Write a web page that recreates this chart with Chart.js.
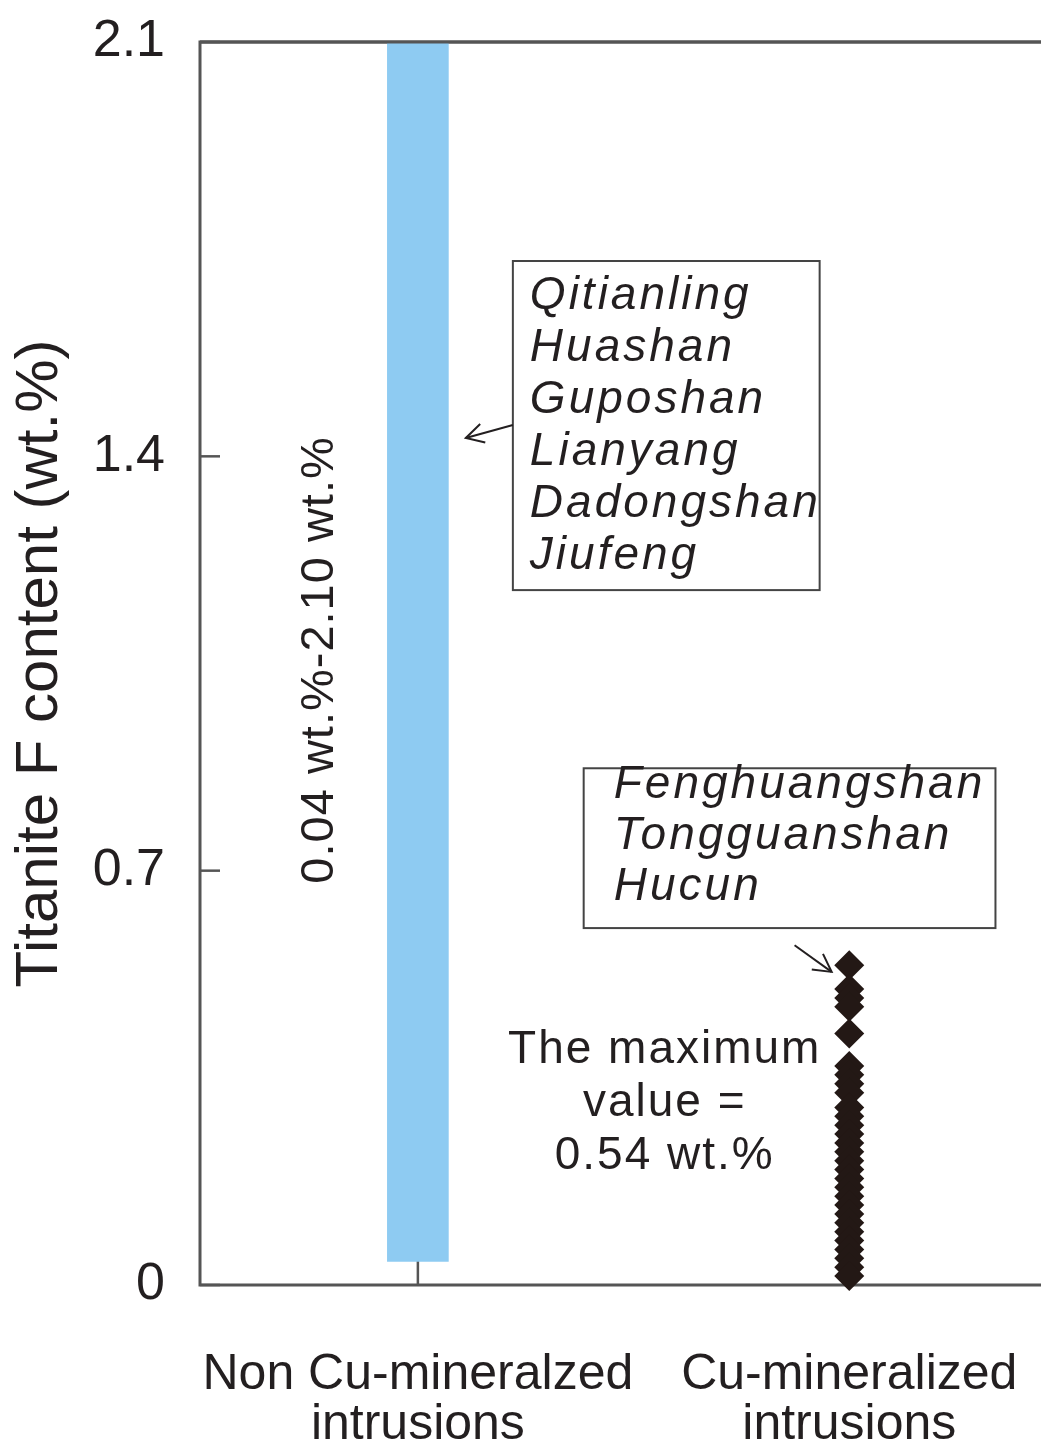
<!DOCTYPE html>
<html>
<head>
<meta charset="utf-8">
<script src="https://cdn.jsdelivr.net/npm/chart.js@4/dist/chart.umd.min.js"></script>
<style>
html, body { margin: 0; padding: 0; background: #fff; }
</style>
</head>
<body>
<canvas id="chart" width="1041" height="1446"></canvas>
<script>
// data
const categories = [["Non Cu-mineralzed", "intrusions"], ["Cu-mineralized", "intrusions"]]
const categoryX = [1, 2.98]
const yTicks = [0, 0.7, 1.4, 2.1]
const nonCuRange = [0.04, 2.1]
const cuValues = [0.54, 0.50, 0.485, 0.47, 0.425, 0.37, 0.355, 0.34, 0.325,
    0.30, 0.285, 0.27, 0.255, 0.24, 0.225, 0.21, 0.195, 0.18, 0.165, 0.15,
    0.135, 0.12, 0.105, 0.09, 0.075, 0.06, 0.045, 0.03, 0.015]
const nonCuSites = ["Qitianling", "Huashan", "Guposhan", "Lianyang", "Dadongshan", "Jiufeng"]
const cuSites = ["Fenghuangshan", "Tongguanshan", "Hucun"]
const rangeLabel = "0.04 wt.%-2.10 wt.%"
const maxLabel = ["The maximum", "value =", "0.54 wt.%"]

const ink = "#231f20"
const axisGray = "#555"
const fontFamily = "'Liberation Sans', Arial, sans-serif"

Chart.defaults.font.family = fontFamily
Chart.defaults.color = ink

function line(ctx, x0, y0, x1, y1) {
    ctx.beginPath()
    ctx.moveTo(x0, y0)
    ctx.lineTo(x1, y1)
    ctx.stroke()
}

function arrow(ctx, x0, y0, x1, y1) {
    line(ctx, x0, y0, x1, y1)
    const ang = Math.atan2(y1 - y0, x1 - x0)
    const len = 20
    ctx.beginPath()
    ctx.moveTo(x1 - len * Math.cos(ang - 0.5), y1 - len * Math.sin(ang - 0.5))
    ctx.lineTo(x1, y1)
    ctx.lineTo(x1 - len * Math.cos(ang + 0.5), y1 - len * Math.sin(ang + 0.5))
    ctx.stroke()
}

// annotation layout, in data units
const notes = {
    box1: { x0: 1.436, x1: 2.844, y0: 1.73, y1: 1.174 },
    text1: { x: 1.514, y: 1.671, step: 52 },
    arrow1: { x0: 1.436, y0: 1.453, x1: 1.22, y1: 1.431 },
    box2: { x0: 1.761, x1: 3.651, y0: 0.873, y1: 0.603 },
    text2: { x: 1.899, y: 0.845, step: 51 },
    arrow2: { x0: 2.729, y0: 0.574, x1: 2.899, y1: 0.529 },
    maxText: { x: 2.133, y: 0.397, step: 53 },
    range: { x: 0.55, y: 1.056 }
}

const frame = {
    id: "frame",
    beforeDatasetsDraw(chart) {
        const { ctx, chartArea: a, scales: { x, y } } = chart
        ctx.save()
        ctx.strokeStyle = axisGray
        ctx.lineWidth = 3
        ctx.beginPath()
        ctx.moveTo(a.right, a.top)
        ctx.lineTo(a.left, a.top)
        ctx.lineTo(a.left, a.bottom)
        ctx.lineTo(a.right, a.bottom)
        ctx.stroke()
        ctx.lineWidth = 2.5
        yTicks.forEach(v => {
            const py = y.getPixelForValue(v)
            line(ctx, a.left, py, a.left + 20, py)
        })
        categoryX.forEach(v => {
            const px = x.getPixelForValue(v)
            line(ctx, px, a.bottom, px, a.bottom - 30)
        })
        ctx.restore()
    },
    afterDatasetsDraw(chart) {
        const { ctx, chartArea: a, scales: { x, y } } = chart
        const X = v => x.getPixelForValue(v)
        const Y = v => y.getPixelForValue(v)
        ctx.save()
        ctx.strokeStyle = axisGray
        ctx.lineWidth = 3
        line(ctx, a.left, a.top, a.right, a.top)

        ctx.strokeStyle = "#444"
        ctx.lineWidth = 2
        const b1 = notes.box1, b2 = notes.box2
        ctx.strokeRect(X(b1.x0), Y(b1.y0), X(b1.x1) - X(b1.x0), Y(b1.y1) - Y(b1.y0))
        ctx.strokeRect(X(b2.x0), Y(b2.y0), X(b2.x1) - X(b2.x0), Y(b2.y1) - Y(b2.y0))

        ctx.strokeStyle = ink
        ctx.lineWidth = 2
        const a1 = notes.arrow1, a2 = notes.arrow2
        arrow(ctx, X(a1.x0), Y(a1.y0), X(a1.x1), Y(a1.y1))
        arrow(ctx, X(a2.x0), Y(a2.y0), X(a2.x1), Y(a2.y1))

        ctx.fillStyle = ink
        ctx.textBaseline = "middle"
        ctx.font = "italic 46px " + fontFamily
        ctx.letterSpacing = "3px"
        ctx.textAlign = "left"
        nonCuSites.forEach((s, i) => ctx.fillText(s, X(notes.text1.x), Y(notes.text1.y) + i * notes.text1.step))
        cuSites.forEach((s, i) => ctx.fillText(s, X(notes.text2.x), Y(notes.text2.y) + i * notes.text2.step))

        ctx.font = "46px " + fontFamily
        ctx.letterSpacing = "2px"
        ctx.textAlign = "center"
        maxLabel.forEach((s, i) => ctx.fillText(s, X(notes.maxText.x), Y(notes.maxText.y) + i * notes.maxText.step))

        ctx.translate(X(notes.range.x), Y(notes.range.y))
        ctx.rotate(-Math.PI / 2)
        ctx.font = "47px " + fontFamily
        ctx.letterSpacing = "1px"
        ctx.fillText(rangeLabel, 0, 0)
        ctx.restore()
    }
}

new Chart(document.getElementById("chart"), {
    data: {
        datasets: [
            {
                type: "bar",
                data: [{ x: categoryX[0], y: nonCuRange }],
                backgroundColor: "#8ecbf2",
                borderWidth: 0,
                barThickness: 61
            },
            {
                type: "scatter",
                data: cuValues.map(v => ({ x: categoryX[1], y: v })),
                pointStyle: "rectRot",
                pointRadius: 15,
                backgroundColor: "#231815",
                borderColor: "#231815",
                borderWidth: 0,
                clip: false
            }
        ]
    },
    options: {
        responsive: false,
        animation: false,
        layout: { autoPadding: false, padding: { top: 42, left: 0, right: 0, bottom: 0 } },
        plugins: { legend: { display: false }, tooltip: { enabled: false } },
        scales: {
            x: {
                type: "linear",
                min: 0,
                max: 3.86,
                offset: false,
                afterBuildTicks: s => { s.ticks = categoryX.map(v => ({ value: v })) },
                afterFit: s => { s.height = 161; s.paddingLeft = 0; s.paddingRight = 0 },
                grid: { display: false, drawTicks: false, offset: false },
                border: { display: false },
                ticks: {
                    callback: v => categories[categoryX.indexOf(v)],
                    font: { size: 50, lineHeight: 1.0 },
                    color: ink,
                    padding: 65,
                    maxRotation: 0,
                    autoSkip: false
                }
            },
            y: {
                min: 0,
                max: 2.1,
                afterBuildTicks: s => { s.ticks = yTicks.map(v => ({ value: v })) },
                afterFit: s => { s.width = 200; s.paddingTop = 0; s.paddingBottom = 0 },
                grid: { display: false, drawTicks: false },
                border: { display: false },
                ticks: {
                    callback: v => v === 0 ? "0" : v.toFixed(1),
                    font: { size: 52 },
                    color: ink,
                    padding: 35
                },
                title: {
                    display: true,
                    text: "Titanite F content (wt.%)",
                    font: { size: 60, lineHeight: 1.0 },
                    color: ink,
                    padding: { top: 10, bottom: 0 }
                }
            }
        }
    },
    plugins: [frame]
})
</script>
</body>
</html>
